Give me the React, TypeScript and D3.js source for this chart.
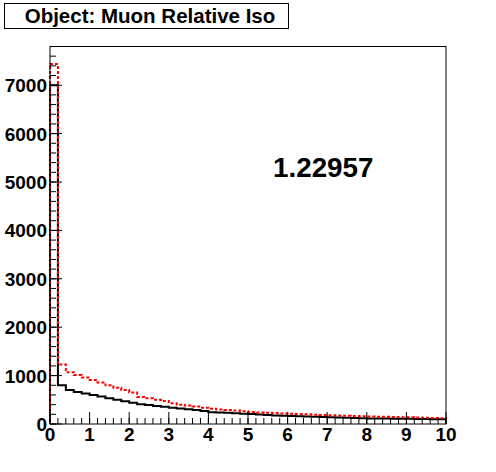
import React from "react";
import * as d3 from "d3";

const binEdgesRange = [0, 10];
const nBins = 50;
const blackCounts = [
  7000, 800, 700, 660, 630, 600, 570, 530, 500, 470,
  440, 410, 390, 370, 355, 335, 320, 305, 290, 270,
  245, 238, 230, 222, 212, 205, 195, 185, 175, 168,
  163, 158, 153, 150, 146, 142, 135, 128, 122, 118,
  116, 114, 112, 110, 108, 106, 104, 101, 98, 96,
];
const redCounts = [
  7440, 1230, 1070, 1010, 960, 910, 860, 800, 750, 700,
  650, 560, 530, 500, 475, 430, 400, 380, 360, 335,
  315, 300, 290, 280, 265, 250, 240, 232, 225, 218,
  210, 205, 200, 192, 185, 180, 175, 170, 165, 160,
  155, 150, 148, 145, 140, 138, 132, 128, 122, 118,
];
const xMajorTicks = [0, 1, 2, 3, 4, 5, 6, 7, 8, 9, 10];
const yMajorTicks = [0, 1000, 2000, 3000, 4000, 5000, 6000, 7000];
const titleText = "Object: Muon Relative Iso";
const ratioText = "1.22957";
const yMax = 7810;

const W = 496;
const H = 472;
const left = 50;
const right = 446;
const top = 46;
const bottom = 424;

export default function App() {
  const x = d3.scaleLinear().domain(binEdgesRange).range([left, right]);
  const y = d3.scaleLinear().domain([0, yMax]).range([bottom, top]);
  const bw = (binEdgesRange[1] - binEdgesRange[0]) / nBins;

  const histPath = (counts: number[]) => {
    const pts: [number, number][] = [];
    pts.push([x(0), y(0)]);
    counts.forEach((c, i) => {
      pts.push([x(i * bw), y(c)]);
      pts.push([x((i + 1) * bw), y(c)]);
    });
    pts.push([x(10), y(0)]);
    return d3.line()(pts) as string;
  };

  const xMinor = d3.range(0, 10.0001, 0.2);
  const yMinor = d3.range(0, 7801, 200);
  const font = "'Liberation Sans', Arial, Helvetica, sans-serif";

  return (
    <svg
      width={W}
      height={H}
      style={{ position: "absolute", left: 0, top: 0, background: "#fff" }}
    >
      <rect x={0} y={0} width={W} height={H} fill="#fff" />
      <path d={histPath(blackCounts)} fill="none" stroke="#000" strokeWidth={2} />
      <path
        d={histPath(redCounts)}
        fill="none"
        stroke="#ff0000"
        strokeWidth={2}
        strokeDasharray="3,2"
      />
      <rect
        x={left}
        y={top + 0.5}
        width={right - left}
        height={bottom - top - 0.5}
        fill="none"
        stroke="#000"
        strokeWidth={1}
      />
      {xMinor.map((v, i) => (
        <line
          key={"xm" + i}
          x1={x(v)}
          x2={x(v)}
          y1={bottom}
          y2={bottom - 6}
          stroke="#000"
          strokeWidth={1}
        />
      ))}
      {xMajorTicks.map((v) => (
        <line
          key={"xM" + v}
          x1={x(v)}
          x2={x(v)}
          y1={bottom}
          y2={bottom - 12}
          stroke="#000"
          strokeWidth={1}
        />
      ))}
      {xMajorTicks.map((v) => (
        <text
          key={"xl" + v}
          x={x(v)}
          y={441}
          textAnchor="middle"
          fontFamily={font}
          fontWeight="bold"
          fontSize={19}
        >
          {v}
        </text>
      ))}
      {yMinor.map((v, i) => (
        <line
          key={"ym" + i}
          x1={left}
          x2={left + 6}
          y1={y(v)}
          y2={y(v)}
          stroke="#000"
          strokeWidth={1}
        />
      ))}
      {yMajorTicks.map((v) => (
        <line
          key={"yM" + v}
          x1={left}
          x2={left + 12}
          y1={y(v)}
          y2={y(v)}
          stroke="#000"
          strokeWidth={1}
        />
      ))}
      {yMajorTicks.map((v) => (
        <text
          key={"yl" + v}
          x={47}
          y={y(v) + 7}
          textAnchor="end"
          fontFamily={font}
          fontWeight="bold"
          fontSize={19}
        >
          {v}
        </text>
      ))}
      <rect x={4.5} y={3.5} width={284} height={25} fill="#fff" stroke="#000" strokeWidth={1} />
      <text
        x={150}
        y={23}
        textAnchor="middle"
        fontFamily={font}
        fontWeight="bold"
        fontSize={20.5}
      >
        {titleText}
      </text>
      <text
        x={273}
        y={177}
        fontFamily={font}
        fontWeight="bold"
        fontSize={27.8}
      >
        {ratioText}
      </text>
    </svg>
  );
}
